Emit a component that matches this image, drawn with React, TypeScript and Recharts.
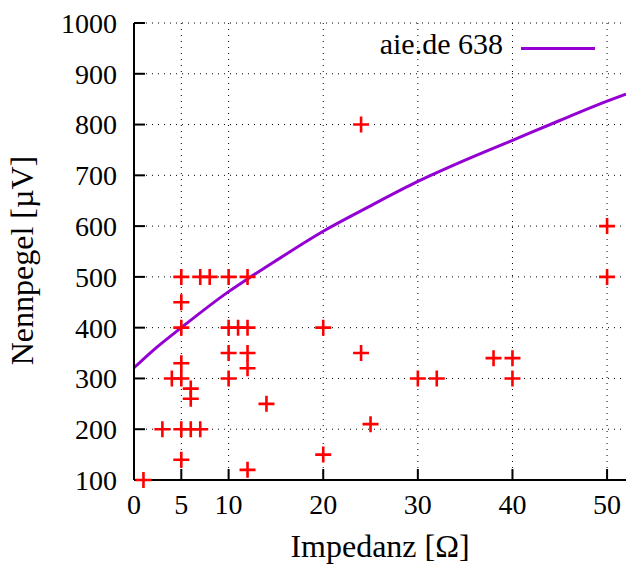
import { CartesianGrid, ComposedChart, Legend, Line, Scatter, XAxis, YAxis } from 'recharts';

const FONT = '"Liberation Serif", serif';

// axis ticks
const xTicks = [0, 5, 10, 20, 30, 40, 50];
const yTicks = [100, 200, 300, 400, 500, 600, 700, 800, 900, 1000];

// aie.de 638 curve
const curveImpedance = [0, 2, 5, 10, 12, 15, 20, 25, 30, 35, 40, 45, 50, 52];
const curveLevel = [321, 355, 400, 471, 496, 532, 590, 640, 688, 730, 769, 808, 846, 860];

// measured devices
const pointImpedance = [
    1, 3, 4, 5, 5, 5, 5, 5, 5, 5, 6, 6, 6, 7, 7, 8, 10, 10, 10, 10, 11, 12, 12, 12, 12, 12, 14, 20, 20, 24, 24,
    25, 30, 32, 38, 40, 40, 50, 50,
];
const pointLevel = [
    100, 200, 300, 500, 450, 400, 330, 300, 200, 140, 280, 260, 200, 500, 200, 500, 500, 400, 350, 300, 400, 500,
    400, 350, 320, 120, 250, 400, 150, 800, 350, 210, 300, 300, 340, 340, 300, 600, 500,
];

const curveData = curveImpedance.map((x, i) => ({ x, y: curveLevel[i] }));
const pointData = pointImpedance.map((x, i) => ({ x, y: pointLevel[i] }));

const axisStroke = { stroke: '#000', strokeWidth: 2 };
const tickFont = { fill: '#000', fontSize: 28, fontFamily: FONT };

const css = `
body { margin: 0; }
.chart-box text, .chart-box .recharts-legend-wrapper { font-family: "Liberation Serif", serif !important; }
`;

function PlusMark(props: any) {
    const { cx, cy } = props;
    if (cx == null || cy == null) return null;
    return (
        <path
            d={`M${cx - 8},${cy}H${cx + 8}M${cx},${cy - 8}V${cy + 8}`}
            stroke="#ff0000"
            strokeWidth={2.6}
            fill="none"
        />
    );
}

function YTitle(props: any) {
    const vb = props.viewBox;
    const cy = vb.y + vb.height / 2 + 9;
    return (
        <text
            transform={`translate(33, ${cy}) rotate(-90)`}
            textAnchor="middle"
            fontFamily={FONT}
            fontSize={32}
            fill="#000"
        >
            Nennpegel [µV]
        </text>
    );
}

function LegendBox() {
    return (
        <div style={{ display: 'flex', justifyContent: 'flex-end', alignItems: 'flex-start', fontFamily: FONT }}>
            <span style={{ fontSize: 30, lineHeight: '30px', color: '#000' }}>aie.de 638</span>
            <span
                style={{
                    display: 'inline-block',
                    width: 74,
                    height: 3,
                    marginLeft: 18,
                    marginTop: 18,
                    background: '#9400d3',
                }}
            />
        </div>
    );
}

export default function App() {
    return (
        <div className="chart-box" style={{ position: 'absolute', left: 0, top: 0, fontFamily: FONT }}>
            <style>{css}</style>
            <ComposedChart width={626} height={565} margin={{ top: 23, right: 0, bottom: 0, left: 0 }}>
                <CartesianGrid
                    xAxisId="b"
                    yAxisId="l"
                    stroke="#000"
                    strokeWidth={1}
                    strokeDasharray="1 5"
                    verticalValues={xTicks}
                    horizontalValues={yTicks}
                />
                <XAxis
                    xAxisId="b"
                    type="number"
                    dataKey="x"
                    domain={[0, 52]}
                    ticks={xTicks}
                    interval={0}
                    height={85}
                    tickSize={-11}
                    tickMargin={25}
                    axisLine={axisStroke}
                    tickLine={axisStroke}
                    tick={tickFont}
                    label={{
                        value: 'Impedanz [Ω]',
                        position: 'insideBottom',
                        offset: 8,
                        fill: '#000',
                        fontSize: 32,
                        fontFamily: FONT,
                    }}
                />
                <XAxis
                    xAxisId="t"
                    orientation="top"
                    type="number"
                    domain={[0, 52]}
                    ticks={xTicks}
                    interval={0}
                    allowDataOverflow
                    height={0}
                    tickSize={-11}
                    tick={false}
                    axisLine={axisStroke}
                    tickLine={axisStroke}
                />
                <YAxis
                    yAxisId="l"
                    type="number"
                    dataKey="y"
                    domain={[100, 1000]}
                    ticks={yTicks}
                    interval={0}
                    width={134}
                    tickSize={-11}
                    tickMargin={28}
                    axisLine={axisStroke}
                    tickLine={axisStroke}
                    tick={tickFont}
                    label={{ content: YTitle }}
                />
                <YAxis
                    yAxisId="r"
                    orientation="right"
                    type="number"
                    domain={[100, 1000]}
                    ticks={yTicks}
                    interval={0}
                    allowDataOverflow
                    width={0}
                    tickSize={-11}
                    tick={false}
                    axisLine={false}
                    tickLine={axisStroke}
                />
                <Line
                    xAxisId="b"
                    yAxisId="l"
                    data={curveData}
                    dataKey="y"
                    type="monotone"
                    stroke="#9400d3"
                    strokeWidth={3}
                    dot={false}
                    activeDot={false}
                    isAnimationActive={false}
                />
                <Scatter
                    xAxisId="b"
                    yAxisId="l"
                    data={pointData}
                    dataKey="y"
                    shape={PlusMark}
                    isAnimationActive={false}
                />
                <Legend
                    layout="horizontal"
                    align="center"
                    verticalAlign="middle"
                    content={LegendBox}
                    wrapperStyle={{ position: 'absolute', top: 29, left: 300, width: 295, height: 34 }}
                />
            </ComposedChart>
        </div>
    );
}
